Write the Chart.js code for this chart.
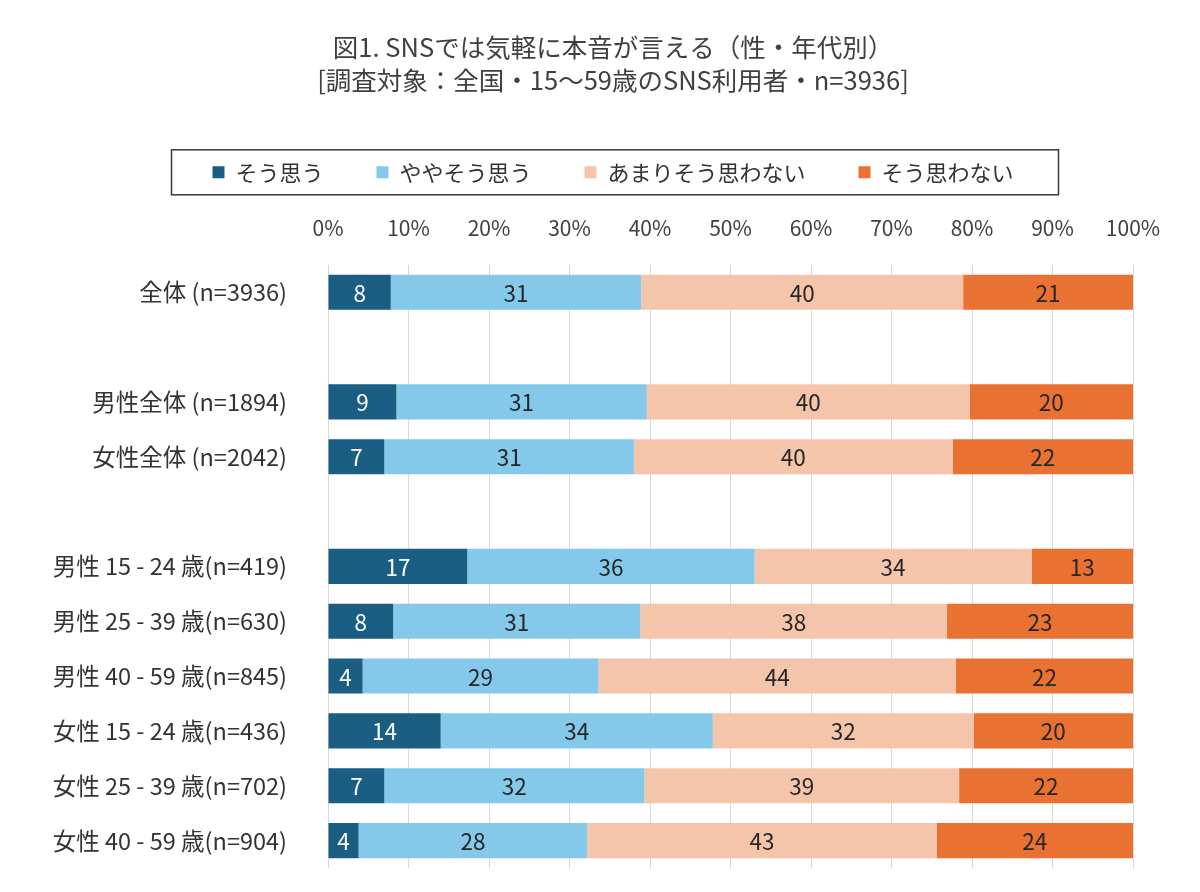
<!DOCTYPE html>
<html lang="ja">
<head>
<meta charset="utf-8">
<title>SNSでは気軽に本音が言える（性・年代別）</title>
<script src="https://cdn.jsdelivr.net/npm/chart.js@4.4.1/dist/chart.umd.min.js"></script>
<style>
  html, body { margin: 0; padding: 0; background: #ffffff; }
  #wrap { width: 1200px; height: 892px; }
</style>
</head>
<body>
<div id="wrap"><canvas id="c" width="1200" height="892"></canvas></div>
<script>
// ---- Data (percent) ----
const titleLines = ['図1. SNSでは気軽に本音が言える（性・年代別）', '[調査対象：全国・15～59歳のSNS利用者・n=3936]'];
const categories = ['全体 (n=3936)', '', '男性全体 (n=1894)', '女性全体 (n=2042)', '',
  '男性 15 - 24 歳(n=419)', '男性 25 - 39 歳(n=630)', '男性 40 - 59 歳(n=845)',
  '女性 15 - 24 歳(n=436)', '女性 25 - 39 歳(n=702)', '女性 40 - 59 歳(n=904)'];
const seriesNames = ['そう思う', 'ややそう思う', 'あまりそう思わない', 'そう思わない'];
const soOmou          = [7.8, null, 8.5, 7.0, null, 17.3, 8.1, 4.3, 14.0, 7.0, 3.8];
const yayaSoOmou      = [31.1, null, 31.1, 31.0, null, 35.7, 30.7, 29.3, 33.8, 32.3, 28.4];
const amariSoOmowanai = [40.0, null, 40.1, 39.6, null, 34.4, 38.1, 44.4, 32.4, 39.1, 43.4];
const soOmowanai      = [21.1, null, 20.3, 22.4, null, 12.6, 23.1, 22.0, 19.8, 21.6, 24.4];
const xTicks = [0, 10, 20, 30, 40, 50, 60, 70, 80, 90, 100];

const colors = ['#1b5e84', '#84c9ea', '#f5c5ab', '#e97131'];
const labelColors = ['#ffffff', '#262626', '#262626', '#262626'];
const FONT = "'Noto Sans CJK JP', 'Noto Sans', sans-serif";

const barLabels = {
  id: 'barLabels',
  afterDatasetsDraw(chart) {
    const ctx = chart.ctx;
    ctx.save();
    ctx.font = '22.5px ' + FONT;
    ctx.textAlign = 'center';
    ctx.textBaseline = 'middle';
    chart.data.datasets.forEach((ds, i) => {
      const meta = chart.getDatasetMeta(i);
      meta.data.forEach((bar, j) => {
        const v = ds.data[j];
        if (v === null || v === undefined) return;
        const p = bar.getCenterPoint();
        ctx.fillStyle = labelColors[i];
        ctx.fillText(String(Math.round(v)), p.x, p.y + 1);
      });
    });
    ctx.restore();
  }
};

const legendFrame = {
  id: 'legendFrame',
  afterDraw(chart) {
    const lg = chart.legend;
    if (!lg || !lg.legendHitBoxes || !lg.legendHitBoxes.length) return;
    const hb = lg.legendHitBoxes;
    const first = hb[0], last = hb[hb.length - 1];
    const cy = first.top + first.height / 2;
    const ctx = chart.ctx;
    ctx.save();
    ctx.strokeStyle = '#3a3a3a';
    ctx.lineWidth = 1.5;
    const l = first.left - 41, r = last.left + last.width + 45;
    ctx.strokeRect(l, cy - 22.5, r - l, 45);
    ctx.restore();
  }
};

new Chart(document.getElementById('c'), {
  type: 'bar',
  data: {
    labels: categories,
    datasets: [
      { label: seriesNames[0], data: soOmou, backgroundColor: colors[0] },
      { label: seriesNames[1], data: yayaSoOmou, backgroundColor: colors[1] },
      { label: seriesNames[2], data: amariSoOmowanai, backgroundColor: colors[2] },
      { label: seriesNames[3], data: soOmowanai, backgroundColor: colors[3] }
    ]
  },
  options: {
    indexAxis: 'y',
    responsive: false,
    animation: false,
    maintainAspectRatio: false,
    layout: { padding: { left: 26, right: 0, top: 0, bottom: 24 } },
    datasets: { bar: { barPercentage: 0.64, categoryPercentage: 1.0, borderWidth: 0 } },
    plugins: {
      title: {
        display: true,
        text: titleLines,
        color: '#404040',
        font: { family: FONT, size: 25.5, weight: 'normal', lineHeight: 1.3 },
        padding: { top: 30.5, bottom: 11.5 }
      },
      legend: {
        display: true,
        position: 'top',
        labels: {
          boxWidth: 12,
          boxHeight: 12,
          padding: 53,
          color: '#333333',
          font: { family: FONT, size: 22 }
        }
      },
      tooltip: { enabled: false }
    },
    scales: {
      x: {
        type: 'linear',
        position: 'top',
        stacked: true,
        min: 0,
        max: 100,
        afterBuildTicks(s) { s.ticks = xTicks.map(v => ({ value: v })); },
        afterFit(s) { s.height = 71.5; },
        grid: { color: '#d9d9d9', lineWidth: 1, drawTicks: false },
        border: { display: false },
        ticks: {
          padding: 24.4,
          color: '#404040',
          font: { family: FONT, size: 21 },
          callback: v => v + '%'
        }
      },
      y: {
        type: 'category',
        position: 'left',
        stacked: true,
        afterFit(s) { s.width = 302; s.paddingTop = 0; s.paddingBottom = 0; },
        grid: { display: false },
        border: { display: false },
        ticks: {
          padding: 33,
          color: '#333333',
          font: { family: FONT, size: 23.5 }
        }
      },
      yRight: {
        type: 'category',
        position: 'right',
        display: true,
        afterFit(s) { s.width = 67; s.paddingTop = 0; s.paddingBottom = 0; },
        grid: { display: false },
        border: { display: false },
        ticks: { display: false }
      }
    }
  },
  plugins: [barLabels, legendFrame]
});
</script>
</body>
</html>
